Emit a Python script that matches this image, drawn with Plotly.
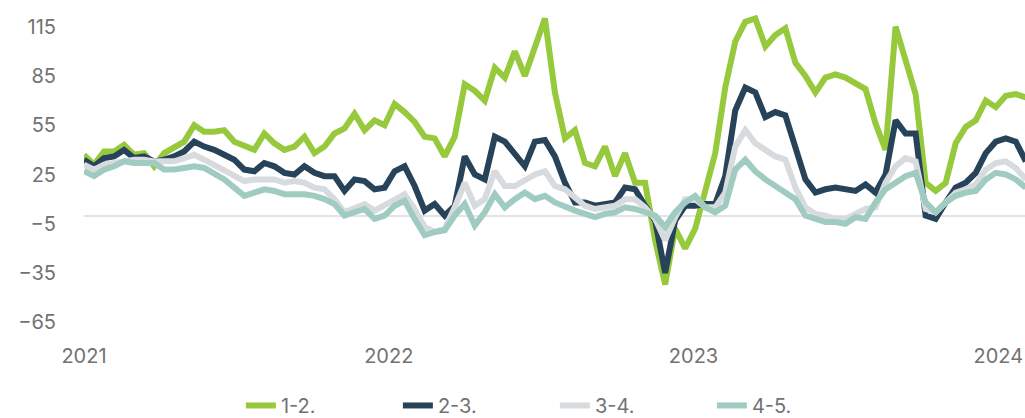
import pandas as pd
import plotly.graph_objects as go

# sampled every 12 days from 2021-01-01
dates = pd.date_range("2021-01-01", periods=95, freq="12D")

s12 = [37, 31, 39, 39, 43, 37, 38, 30, 38, 42, 45, 55, 51, 51, 52, 45, 42, 40, 50, 44,
       40, 42, 48, 38, 42, 50, 53, 62, 52, 58, 55, 68, 63, 57, 48, 47, 36, 48, 80, 76,
       70, 90, 84, 100, 85, 102, 120, 75, 47, 52, 32, 30, 42, 24, 38, 20, 20, -15, -42, -8,
       -20, -8, 15, 38, 78, 106, 118, 120, 103, 110, 114, 93, 85, 75, 84, 86, 84, 80, 77, 56,
       40, 115, 95, 74, 20, 15, 20, 44, 54, 58, 70, 66, 73, 74, 72]

s23 = [34, 30, 35, 36, 40, 35, 36, 33, 34, 36, 39, 45, 42, 40, 37, 34, 28, 27, 32, 30,
       26, 25, 30, 26, 24, 24, 15, 22, 21, 16, 17, 27, 30, 18, 3, 7, 0, 6, 36, 25,
       22, 48, 45, 37, 30, 45, 46, 36, 20, 8, 8, 6, 7, 8, 17, 16, 6, -3, -35, -3,
       6, 6, 7, 7, 24, 64, 78, 75, 60, 63, 61, 40, 22, 14, 16, 17, 16, 15, 19, 14,
       25, 58, 50, 50, 0, -2, 8, 17, 20, 26, 38, 45, 47, 45, 33]

s34 = [31, 28, 31, 32, 33, 34, 34, 33, 33, 33, 35, 37, 34, 31, 28, 24, 21, 22, 22, 22,
       20, 21, 20, 17, 16, 10, 2, 5, 7, 3, 6, 10, 13, 4, -7, -10, -8, 5, 20, 6,
       10, 27, 18, 18, 22, 25, 27, 18, 16, 11, 6, 4, 5, 6, 10, 10, 5, -2, -15, -1,
       10, 10, 5, 5, 14, 42, 52, 44, 40, 36, 34, 17, 5, 1, 0, -2, -2, 1, 4, 5,
       20, 30, 35, 33, 4, 2, 8, 14, 16, 19, 28, 32, 33, 29, 22]

s45 = [27, 24, 28, 30, 33, 32, 32, 32, 28, 28, 29, 30, 29, 26, 22, 17, 12, 14, 16, 15,
       13, 13, 13, 12, 10, 7, 0, 2, 4, -2, 0, 6, 9, -2, -12, -10, -9, 0, 7, -6,
       2, 13, 5, 10, 14, 10, 12, 8, 5, 3, 1, -1, 1, 2, 5, 4, 2, 0, -7, 2,
       8, 12, 5, 2, 6, 28, 34, 27, 22, 18, 14, 10, 0, -2, -4, -4, -5, -1, -2, 8,
       16, 20, 24, 26, 8, 2, 8, 12, 14, 15, 22, 26, 25, 22, 17]

names = ["1-2.", "2-3.", "3-4.", "4-5."]
colors = ["#97C93D", "#27435A", "#D8DBDE", "#9FCBC0"]
series = [s12, s23, s34, s45]

fig = go.Figure()
for name, col, vals in zip(names, colors, series):
    fig.add_trace(go.Scatter(x=dates, y=vals, mode="lines", name=name,
                             line=dict(color=col, width=6)))

font = dict(family="Inter, Roboto, sans-serif", size=20, color="#727272")

fig.update_layout(
    width=1025, height=418, autosize=False,
    margin=dict(l=84, r=0, t=7, b=76, autoexpand=False),
    plot_bgcolor="white", paper_bgcolor="white",
    font=font,
    showlegend=True,
    legend=dict(orientation="h", xref="container", yref="container",
                x=0.235, xanchor="left", y=0.03, yanchor="middle",
                entrywidth=112, entrywidthmode="pixels", font=font,
                bgcolor="rgba(0,0,0,0)"),
)
fig.update_xaxes(range=["2021-01-01", "2024-02-02"], showgrid=False, zeroline=False,
                 showline=False, tickformat="%Y", dtick="M12", tick0="2021-01-01",
                 ticks="", automargin=False)
fig.update_yaxes(range=[-77, 127], showgrid=False, zeroline=True, zerolinecolor="#e3e3e3",
                 zerolinewidth=2, tick0=-5, dtick=30, showline=False, automargin=False,
                 ticks="outside", ticklen=23, tickcolor="rgba(0,0,0,0)")

# page has a default body margin, drop it so the figure sits at the corner
fig.write_html("out.html", config={"displayModeBar": False},
               post_script="document.body.style.margin='0';")
